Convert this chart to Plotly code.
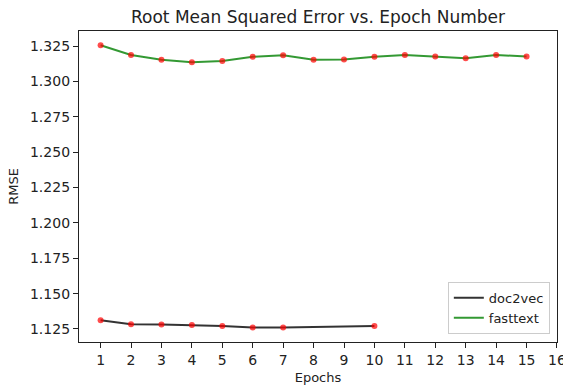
import plotly.graph_objects as go

doc2vec_epochs = [1, 2, 3, 4, 5, 6, 7, 10]
doc2vec_rmse = [1.1312, 1.1283, 1.1281, 1.1278, 1.1271, 1.1260, 1.1260, 1.1271]

fasttext_epochs = list(range(1, 16))
fasttext_rmse = [1.3255, 1.3186, 1.3153, 1.3135, 1.3144, 1.3174, 1.3184, 1.3153,
                 1.3155, 1.3174, 1.3186, 1.3176, 1.3163, 1.3186, 1.3176]

x_ticks = list(range(1, 17))
y_ticks = [1.125, 1.150, 1.175, 1.200, 1.225, 1.250, 1.275, 1.300, 1.325]

FONT = "DejaVu Sans"
fig = go.Figure()
fig.add_trace(go.Scatter(x=doc2vec_epochs, y=doc2vec_rmse, mode="lines", name="doc2vec",
                         line=dict(color="rgba(0,0,0,0.8)", width=2)))
fig.add_trace(go.Scatter(x=fasttext_epochs, y=fasttext_rmse, mode="lines", name="fasttext",
                         line=dict(color="rgba(0,128,0,0.8)", width=2)))
for xs, ys in [(doc2vec_epochs, doc2vec_rmse), (fasttext_epochs, fasttext_rmse)]:
    fig.add_trace(go.Scatter(x=xs, y=ys, mode="markers", showlegend=False,
                             marker=dict(color="rgba(255,0,0,0.7)", size=6, line=dict(width=0))))

fig.update_layout(
    template="simple_white",
    width=563, height=387,
    margin=dict(l=79, r=6, t=31, b=45, autoexpand=False),
    paper_bgcolor="white", plot_bgcolor="white",
    title=dict(text="Root Mean Squared Error vs. Epoch Number", x=0.5, xref="paper",
               xanchor="center", y=1 - 17 / 387, yanchor="middle",
               font=dict(family=FONT, size=17, color="#222")),
    legend=dict(x=0.985, y=0.026, xanchor="right", yanchor="bottom",
                bgcolor="white", bordercolor="#ccc", borderwidth=1,
                font=dict(family=FONT, size=13, color="#222")),
    font=dict(family=FONT),
    xaxis=dict(range=[0.29, 16.001], tickmode="array", tickvals=x_ticks,
               ticklabeloverflow="allow",
               showline=True, linecolor="#222", linewidth=1.3, mirror=True, showgrid=False,
               zeroline=False, ticks="outside", ticklen=5, tickcolor="#222", tickwidth=1.3,
               tickfont=dict(family=FONT, size=14, color="#222"),
               title=dict(text="Epochs", font=dict(family=FONT, size=13, color="#222"), standoff=5)),
    yaxis=dict(range=[1.1158, 1.3356], tickmode="array", tickvals=y_ticks,
               ticktext=[f"{v:.3f}" for v in y_ticks],
               showline=True, linecolor="#222", linewidth=1.3, mirror=True, showgrid=False,
               zeroline=False, ticks="outside", ticklen=5, tickcolor="#222", tickwidth=1.3,
               tickfont=dict(family=FONT, size=14, color="#222"),
               title=dict(text="RMSE", font=dict(family=FONT, size=13, color="#222"), standoff=8)),
)
fig.write_html("out.html", config={"displayModeBar": False},
               post_script="document.body.style.margin='0';document.body.style.padding='0';")
